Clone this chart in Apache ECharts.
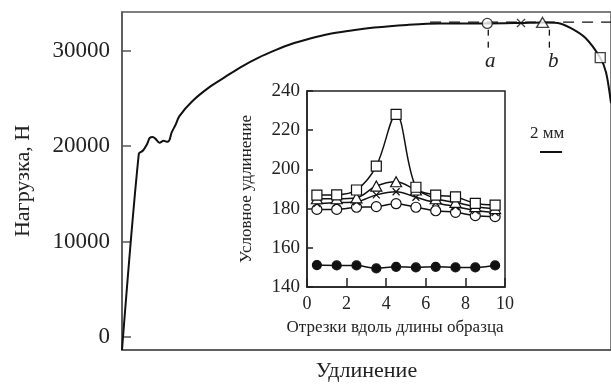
<!DOCTYPE html>
<html><head><meta charset="utf-8">
<script src="https://cdn.jsdelivr.net/npm/echarts@6/dist/echarts.min.js"></script>
<style>html,body{margin:0;padding:0;background:#fff}#c{width:611px;height:387px}</style>
</head><body><div id="c"></div>
<script>
// Main curve: load vs elongation (elongation in arbitrary units 0..100)
const mainX = [0, 3.44, 4.25, 5.06, 5.67, 6.28, 6.88, 7.69, 8.50, 9.31, 9.72, 10.12, 10.93, 11.74, 14.37, 17.81, 21.26, 24.49, 27.94, 31.38, 34.62, 38.66, 42.11, 46.15, 51.62, 58.30, 64.98, 70.45, 74.49, 81.58, 86.03, 89.07, 91.70, 94.74, 97.77, 98.99, 100];
const mainY = [-1350, 19205, 19516, 20139, 20866, 20970, 20762, 20347, 20554, 20451, 20658, 21385, 22215, 23150, 24707, 26160, 27302, 28340, 29275, 30050, 30700, 31300, 31720, 32050, 32420, 32700, 32856, 32856, 32856, 32908, 32960, 32908, 32389, 31351, 29275, 27717, 24500];
const mainTicks = [0, 10000, 20000, 30000];
// Marker points on the main curve
const markCircle = [74.7, 32856];
const markCross = [81.6, 32890];
const markTri = [86.0, 32960];
const markSquare = [97.8, 29275];
const dashLevel = 33000;
const dashFrom = 63, dashTo = 100;
const vA = 74.9, vB = 87.4, vTop = 32200, vBottom = 30300;

// Inset: conventional elongation along specimen segments
const insetX = [0.5, 1.5, 2.5, 3.5, 4.5, 5.5, 6.5, 7.5, 8.5, 9.5];
const sFilled = [151.2, 151, 151, 149.5, 150.3, 150, 150.3, 150, 150, 151];
const sCircle = [179.6, 179.6, 180.7, 181, 182.5, 180.7, 178.9, 178.1, 176.4, 175.9];
const sCross = [182.5, 183, 183.5, 187, 188.6, 185.8, 183, 181, 179, 178];
const sTri = [185, 185, 185.5, 191.5, 193.7, 189.5, 185, 183.2, 181, 180];
const sSquare = [186.9, 187, 189.5, 201.7, 228.1, 190.9, 186.9, 186, 182.7, 181.8];

const F = 'Liberation Serif, Times New Roman, serif';
const pair = (xs, ys) => xs.map((x, i) => [x, ys[i]]);
const crossPath = 'path://M0,0L10,10M10,0L0,10';

const chart = echarts.init(document.getElementById('c'));
function insetSeries(data, symbol, fill, size) {
  return {
    type: 'line', xAxisIndex: 1, yAxisIndex: 1, data: pair(insetX, data),
    smooth: 0.35, symbol: symbol, symbolSize: size, showSymbol: true,
    lineStyle: { color: '#111', width: 1.5 },
    itemStyle: { color: fill, borderColor: '#111', borderWidth: 1.2 },
    z: 5, animation: false
  };
}
chart.setOption({
  animation: false,
  grid: [
    { left: 122, top: 12, right: -5, bottom: 34, show: true, borderColor: '#555', borderWidth: 1.5, z: 1 },
    { left: 307, top: 91, width: 198, height: 196, show: true, borderColor: '#222', borderWidth: 1.5, backgroundColor: '#fff', z: 3 }
  ],
  xAxis: [
    { type: 'value', gridIndex: 0, min: 0, max: 100, axisLine: { show: true, onZero: false, lineStyle: { color: '#555', width: 1.5 } },
      axisTick: { show: false }, axisLabel: { show: false }, splitLine: { show: false },
      name: 'Удлинение', nameLocation: 'middle', nameGap: 10,
      nameTextStyle: { fontFamily: F, fontSize: 22, color: '#222', verticalAlign: 'top' } },
    { type: 'value', gridIndex: 1, min: 0, max: 10, interval: 2, z: 4,
      axisLine: { show: true, onZero: false, lineStyle: { color: '#222', width: 1.5 } },
      axisTick: { show: true, inside: true, length: 9, lineStyle: { color: '#222', width: 1.5 } },
      axisLabel: { fontFamily: F, fontSize: 18, color: '#222', margin: 8 },
      splitLine: { show: false },
      name: 'Отрезки вдоль длины образца', nameLocation: 'middle', nameGap: 32,
      nameTextStyle: { fontFamily: F, fontSize: 17, color: '#222', padding: [0, 22, 0, 0] } }
  ],
  yAxis: [
    { type: 'value', gridIndex: 0, min: -1350, max: 34050,
      axisLine: { show: true, onZero: false, lineStyle: { color: '#555', width: 1.5 } },
      axisTick: { show: true, inside: true, length: 9, customValues: mainTicks, lineStyle: { color: '#555', width: 1.5 } },
      axisLabel: { fontFamily: F, fontSize: 23, color: '#222', margin: 12, customValues: mainTicks, formatter: v => String(v) },
      splitLine: { show: false },
      name: 'Нагрузка, Н', nameLocation: 'middle', nameGap: 88,
      nameTextStyle: { fontFamily: F, fontSize: 22, color: '#222' } },
    { type: 'value', gridIndex: 1, min: 140, max: 240, interval: 20, z: 4,
      axisLine: { show: true, onZero: false, lineStyle: { color: '#222', width: 1.5 } },
      axisTick: { show: true, inside: true, length: 6, lineStyle: { color: '#222', width: 1.5 } },
      axisLabel: { fontFamily: F, fontSize: 19, color: '#222', margin: 7 },
      splitLine: { show: false },
      name: 'Условное удлинение', nameLocation: 'middle', nameGap: 52,
      nameTextStyle: { fontFamily: F, fontSize: 17, color: '#222' } }
  ],
  series: [
    { type: 'line', xAxisIndex: 0, yAxisIndex: 0, data: pair(mainX, mainY), smooth: 0.3, showSymbol: false, symbol: 'none',
      lineStyle: { color: '#111', width: 2 }, z: 2, clip: true },
    { type: 'line', xAxisIndex: 0, yAxisIndex: 0, data: [[dashFrom, dashLevel], [dashTo, dashLevel]], symbol: 'none',
      lineStyle: { color: '#111', width: 1.3, type: [11, 8] }, z: 2 },
    { type: 'line', xAxisIndex: 0, yAxisIndex: 0, data: [[vA, vTop], [vA, vBottom]], symbol: 'none',
      lineStyle: { color: '#111', width: 1.3, type: [6, 6] }, z: 2 },
    { type: 'line', xAxisIndex: 0, yAxisIndex: 0, data: [[vB, vTop], [vB, vBottom]], symbol: 'none',
      lineStyle: { color: '#111', width: 1.3, type: [6, 6] }, z: 2 },
    { type: 'scatter', xAxisIndex: 0, yAxisIndex: 0, data: [markCircle], symbol: 'circle', symbolSize: 10,
      itemStyle: { color: '#fff', borderColor: '#111', borderWidth: 1.3 }, z: 3 },
    { type: 'scatter', xAxisIndex: 0, yAxisIndex: 0, data: [markCross], symbol: crossPath, symbolSize: 8,
      itemStyle: { color: '#111', borderColor: '#111', borderWidth: 1.3 }, z: 3 },
    { type: 'scatter', xAxisIndex: 0, yAxisIndex: 0, data: [markTri], symbol: 'triangle', symbolSize: [12, 10],
      itemStyle: { color: '#fff', borderColor: '#111', borderWidth: 1.3 }, z: 3 },
    { type: 'scatter', xAxisIndex: 0, yAxisIndex: 0, data: [markSquare], symbol: 'rect', symbolSize: 10,
      itemStyle: { color: '#fff', borderColor: '#111', borderWidth: 1.3 }, z: 3 },
    insetSeries(sFilled, 'circle', '#111', 9),
    insetSeries(sCircle, 'circle', '#fff', 10),
    insetSeries(sCross, crossPath, '#111', 7),
    insetSeries(sTri, 'triangle', '#fff', [11, 10]),
    insetSeries(sSquare, 'rect', '#fff', 10)
  ],
  graphic: [
    { type: 'text', left: 485, top: 51, z: 10, style: { text: 'a', font: 'italic 21px ' + F, fill: '#222' } },
    { type: 'text', left: 548, top: 51, z: 10, style: { text: 'b', font: 'italic 21px ' + F, fill: '#222' } },
    { type: 'text', left: 530, top: 125, z: 10, style: { text: '2 мм', font: '17px ' + F, fill: '#222' } },
    { type: 'line', z: 10, shape: { x1: 540, y1: 152, x2: 562, y2: 152 }, style: { stroke: '#111', lineWidth: 2 } }
  ]
});
</script></body></html>
